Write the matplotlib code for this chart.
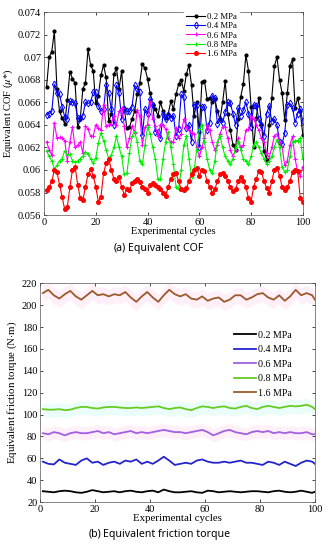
import matplotlib
matplotlib.use("Agg")
import matplotlib.pyplot as plt
import numpy as np

plt.rcParams['font.family'] = ['Liberation Serif', 'DejaVu Serif']
plt.rcParams['mathtext.fontset'] = 'stix'

# ---- (a) equivalent COF, one value per cycle ----
cycles = np.arange(1, 101)

cof_02 = [0.0674, 0.0700, 0.0705, 0.0723, 0.0672, 0.0652, 0.0646, 0.0641, 0.0662, 0.0687,
          0.0681, 0.0677, 0.0638, 0.0645, 0.0672, 0.0677, 0.0707, 0.0693, 0.0688, 0.0659,
          0.0666, 0.0684, 0.0693, 0.0682, 0.0643, 0.0650, 0.0685, 0.0690, 0.0672, 0.0688,
          0.0655, 0.0637, 0.0638, 0.0645, 0.0652, 0.0667, 0.0677, 0.0694, 0.0690, 0.0681,
          0.0668, 0.0658, 0.0654, 0.0648, 0.0660, 0.0652, 0.0646, 0.0650, 0.0661, 0.0654,
          0.0667, 0.0676, 0.0680, 0.0670, 0.0685, 0.0693, 0.0675, 0.0648, 0.0660, 0.0634,
          0.0678, 0.0679, 0.0663, 0.0664, 0.0660, 0.0663, 0.0652, 0.0645, 0.0660, 0.0679,
          0.0650, 0.0635, 0.0622, 0.0618, 0.0645, 0.0665, 0.0676, 0.0702, 0.0688, 0.0656,
          0.0620, 0.0646, 0.0664, 0.0641, 0.0617, 0.0609, 0.0640, 0.0664, 0.0692, 0.0700,
          0.0680, 0.0668, 0.0644, 0.0668, 0.0692, 0.0698, 0.0655, 0.0664, 0.0652, 0.0631]

cof_04 = [0.0649, 0.0650, 0.0652, 0.0676, 0.0668, 0.0667, 0.0656, 0.0647, 0.0645, 0.0661,
          0.0660, 0.0659, 0.0646, 0.0646, 0.0648, 0.0660, 0.0659, 0.0660, 0.0669, 0.0669,
          0.0657, 0.0652, 0.0654, 0.0675, 0.0668, 0.0654, 0.0640, 0.0675, 0.0668, 0.0645,
          0.0654, 0.0652, 0.0652, 0.0656, 0.0675, 0.0672, 0.0669, 0.0631, 0.0654, 0.0650,
          0.0663, 0.0658, 0.0634, 0.0634, 0.0628, 0.0650, 0.0645, 0.0649, 0.0646, 0.0648,
          0.0630, 0.0636, 0.0667, 0.0665, 0.0637, 0.0640, 0.0625, 0.0658, 0.0658, 0.0620,
          0.0656, 0.0656, 0.0635, 0.0642, 0.0666, 0.0664, 0.0641, 0.0645, 0.0642, 0.0651,
          0.0660, 0.0659, 0.0650, 0.0640, 0.0655, 0.0648, 0.0653, 0.0660, 0.0650, 0.0638,
          0.0658, 0.0657, 0.0645, 0.0640, 0.0630, 0.0650, 0.0657, 0.0643, 0.0645, 0.0640,
          0.0625, 0.0623, 0.0633, 0.0658, 0.0659, 0.0655, 0.0642, 0.0650, 0.0654, 0.0643]

cof_06 = [0.0625, 0.0618, 0.0613, 0.0642, 0.0628, 0.0629, 0.0628, 0.0626, 0.0608, 0.0625,
          0.0638, 0.0620, 0.0622, 0.0625, 0.0615, 0.0639, 0.0636, 0.0630, 0.0630, 0.0640,
          0.0637, 0.0635, 0.0658, 0.0639, 0.0640, 0.0641, 0.0648, 0.0640, 0.0652, 0.0655,
          0.0639, 0.0620, 0.0628, 0.0639, 0.0633, 0.0653, 0.0648, 0.0622, 0.0638, 0.0640,
          0.0660, 0.0645, 0.0639, 0.0630, 0.0640, 0.0640, 0.0636, 0.0628, 0.0625, 0.0625,
          0.0637, 0.0628, 0.0632, 0.0645, 0.0638, 0.0635, 0.0633, 0.0632, 0.0620, 0.0612,
          0.0620, 0.0628, 0.0640, 0.0635, 0.0625, 0.0618, 0.0622, 0.0632, 0.0638, 0.0638,
          0.0628, 0.0618, 0.0612, 0.0618, 0.0628, 0.0620, 0.0622, 0.0635, 0.0636, 0.0648,
          0.0645, 0.0640, 0.0635, 0.0628, 0.0625, 0.0615, 0.0611, 0.0620, 0.0630, 0.0632,
          0.0625, 0.0620, 0.0604, 0.0608, 0.0622, 0.0630, 0.0610, 0.0598, 0.0595, 0.0603]

cof_08 = [0.0617, 0.0612, 0.0608, 0.0601, 0.0604, 0.0608, 0.0610, 0.0617, 0.0613, 0.0614,
          0.0608, 0.0607, 0.0608, 0.0610, 0.0612, 0.0616, 0.0614, 0.0610, 0.0606, 0.0611,
          0.0624, 0.0633, 0.0626, 0.0618, 0.0610, 0.0613, 0.0620, 0.0630, 0.0620, 0.0612,
          0.0596, 0.0597, 0.0615, 0.0630, 0.0634, 0.0625, 0.0608, 0.0605, 0.0622, 0.0638,
          0.0632, 0.0620, 0.0610, 0.0592, 0.0592, 0.0610, 0.0625, 0.0634, 0.0620, 0.0605,
          0.0585, 0.0583, 0.0600, 0.0622, 0.0630, 0.0610, 0.0594, 0.0600, 0.0618, 0.0636,
          0.0640, 0.0625, 0.0610, 0.0600, 0.0597, 0.0608, 0.0625, 0.0630, 0.0620, 0.0612,
          0.0608, 0.0605, 0.0610, 0.0620, 0.0625, 0.0618, 0.0610, 0.0608, 0.0605, 0.0612,
          0.0622, 0.0625, 0.0620, 0.0615, 0.0610, 0.0605, 0.0608, 0.0612, 0.0620, 0.0627,
          0.0620, 0.0603, 0.0598, 0.0600, 0.0612, 0.0625, 0.0626, 0.0626, 0.0628, 0.0610]

cof_16 = [0.0582, 0.0585, 0.0590, 0.0600, 0.0598, 0.0587, 0.0576, 0.0565, 0.0567, 0.0585,
          0.0600, 0.0603, 0.0587, 0.0575, 0.0573, 0.0585, 0.0596, 0.0601, 0.0595, 0.0585,
          0.0572, 0.0576, 0.0597, 0.0606, 0.0610, 0.0600, 0.0592, 0.0590, 0.0594, 0.0585,
          0.0578, 0.0583, 0.0582, 0.0588, 0.0590, 0.0592, 0.0589, 0.0585, 0.0583, 0.0580,
          0.0587, 0.0588, 0.0587, 0.0585, 0.0583, 0.0580, 0.0577, 0.0585, 0.0592, 0.0596,
          0.0597, 0.0590, 0.0583, 0.0582, 0.0584, 0.0590, 0.0596, 0.0600, 0.0602, 0.0595,
          0.0600, 0.0599, 0.0590, 0.0585, 0.0580, 0.0583, 0.0590, 0.0596, 0.0597, 0.0595,
          0.0590, 0.0585, 0.0581, 0.0583, 0.0590, 0.0594, 0.0590, 0.0585, 0.0575, 0.0572,
          0.0585, 0.0592, 0.0599, 0.0598, 0.0590, 0.0584, 0.0580, 0.0590, 0.0600, 0.0602,
          0.0595, 0.0585, 0.0582, 0.0585, 0.0590, 0.0598, 0.0600, 0.0599, 0.0575, 0.0572]

# ---- (b) equivalent friction torque (N*m), every second cycle ----
cycles_b = np.append(np.arange(1, 100, 2), 100)

tq_02 = [30, 29.5, 29, 30, 30.5, 30, 29, 28.5, 29.5, 31, 30, 29, 29.5, 30, 29, 30, 30.5,
         29.5, 29, 30, 30.5, 29, 31.5, 30, 29, 29, 29.5, 30, 29, 28.5, 30.5, 30, 29, 29.5,
         30, 29.5, 29, 29.5, 30, 30, 29.5, 29, 30, 30.5, 29.5, 29, 29.5, 30.5, 29.5, 28.5, 29.5]
tq_04 = [57, 55, 54.5, 59, 56, 55, 54, 58, 60, 56, 57, 54, 56, 57, 55, 58, 57, 59, 55, 57,
         55, 58, 61.5, 58, 54, 55, 56, 55, 58, 59, 57, 56, 56, 57, 56, 57, 58, 56, 56, 55,
         54, 57, 56, 54, 57, 55, 53, 56, 58, 57, 55]
tq_06 = [83, 82, 84, 83, 81, 83, 84, 83, 83, 84, 85, 83, 84, 82, 83, 84, 85, 83, 84, 83,
         84, 85, 86, 85, 84, 84, 83, 84, 85, 86, 84, 81, 83, 85, 86, 84, 83, 82, 84, 85,
         84, 85, 83, 84, 83, 84, 83, 83, 84, 82, 82]
tq_08 = [105, 104.5, 104.5, 105, 104, 104.5, 106, 107, 107, 106, 105.5, 106.5, 107, 107,
         106.5, 106, 106, 106.5, 106, 106.5, 107, 107.5, 106, 105, 106, 106.5, 105, 104, 106,
         107.5, 107, 106, 107, 107.5, 106, 105.5, 107, 108, 106, 105, 107, 108, 107, 106,
         107, 108, 107.5, 108, 109, 107, 105]
tq_16 = [211, 214, 209, 206, 210, 213, 208, 205, 209, 213, 209, 210, 208, 210, 209, 212,
         207, 203, 208, 212, 207, 203, 209, 214, 210, 208, 210, 206, 205, 208, 204, 206,
         207, 203, 205, 209, 209, 205, 207, 210, 211, 207, 205, 209, 204, 208, 214, 209,
         211, 209, 205]

labels = ['0.2 MPa', '0.4 MPa', '0.6 MPa', '0.8 MPa', '1.6 MPa']

fig = plt.figure(figsize=(3.26, 5.5), dpi=100)

def box_ticks(ax):
    ax.tick_params(direction='in', top=True, right=True, length=2.5, width=0.5,
                   labelsize=7.5, pad=2)
    for s in ax.spines.values():
        s.set_linewidth(0.5)
        s.set_color('#555555')

# top panel
ax1 = fig.add_axes([0.135, 0.609, 0.794, 0.369])
ax1.plot(cycles, cof_02, '-', color='k', marker='o', ms=2.0, lw=0.8, label=labels[0])
ax1.plot(cycles, cof_04, '-', color='#0000ff', marker='d', ms=3.5, mfc='none', mew=0.7,
         lw=0.8, label=labels[1])
ax1.plot(cycles, cof_06, '-', color='#ff00ff', marker='+', ms=3, mew=0.8, lw=0.8,
         label=labels[2])
ax1.plot(cycles, cof_08, '-', color='#00ee00', marker='+', ms=3, mew=0.8, lw=0.8,
         label=labels[3])
ax1.plot(cycles, cof_16, '-', color='#ff0000', marker='o', ms=2.6, lw=0.8, label=labels[4])
ax1.set_xlim(0, 100)
ax1.set_ylim(0.056, 0.074)
ax1.set_xticks(range(0, 101, 20))
ax1.set_yticks([0.056, 0.058, 0.06, 0.062, 0.064, 0.066, 0.068, 0.07, 0.072, 0.074])
ax1.set_yticklabels(['0.056', '0.058', '0.06', '0.062', '0.064', '0.066', '0.068',
                     '0.07', '0.072', '0.074'])
box_ticks(ax1)
ax1.set_xlabel('Experimental cycles', fontsize=7.5, labelpad=0)
ax1.set_ylabel('Equivalent COF ($\\mu$*)', fontsize=7.5, labelpad=2)
leg1 = ax1.legend(loc='center right', bbox_to_anchor=(0.77, 0.885), fontsize=6.3,
                  frameon=True, edgecolor='white', facecolor='white', framealpha=1,
                  handlelength=2.2, handletextpad=0.2, labelspacing=0.15,
                  borderpad=0.2, fancybox=False)

# bottom panel
ax2 = fig.add_axes([0.123, 0.087, 0.843, 0.398])
ax2.fill_between(cycles_b, np.array(tq_16) - 8, np.array(tq_16) + 7, color='#ff80d0',
                 alpha=0.12, lw=0)
ax2.fill_between(cycles_b, np.array(tq_08) - 7, np.array(tq_08) + 6, color='#40f0d0',
                 alpha=0.1, lw=0)
ax2.fill_between(cycles_b, np.array(tq_06) - 6, np.array(tq_06) + 6, color='#ff80d0',
                 alpha=0.12, lw=0)
ax2.plot(cycles_b, tq_02, color='k', lw=1.3, label=labels[0])
ax2.plot(cycles_b, tq_04, color='#2424cc', lw=1.3, label=labels[1])
ax2.plot(cycles_b, tq_06, color='#a060e0', lw=1.3, label=labels[2])
ax2.plot(cycles_b, tq_08, color='#66cc22', lw=1.3, label=labels[3])
ax2.plot(cycles_b, tq_16, color='#9c5a2a', lw=1.3, label=labels[4])
ax2.set_xlim(0, 100)
ax2.set_ylim(20, 220)
ax2.set_xticks(range(0, 101, 20))
ax2.set_yticks(range(20, 221, 20))
box_ticks(ax2)
ax2.set_xlabel('Experimental cycles', fontsize=7.8, labelpad=0)
ax2.set_ylabel('Equivalent friction torque (N$\\cdot$m)', fontsize=7.8, labelpad=2)
ax2.legend(loc='center right', bbox_to_anchor=(0.95, 0.63), fontsize=7.2, frameon=False,
           handlelength=2.2, handletextpad=0.2, labelspacing=0.55)

# captions
cap = dict(family=['Noto Sans', 'DejaVu Sans'], fontsize=7.6, va='center')
fig.text(126 / 326, 1 - 248 / 550, '(a)', ha='right', weight='bold', **cap)
fig.text(128 / 326, 1 - 248 / 550, 'Equivalent COF', ha='left', **cap)
fig.text(101 / 326, 1 - 534 / 550, '(b)', ha='right', weight='bold', **cap)
fig.text(103 / 326, 1 - 534 / 550, 'Equivalent friction torque', ha='left', **cap)

fig.savefig('out.png', dpi=100)
